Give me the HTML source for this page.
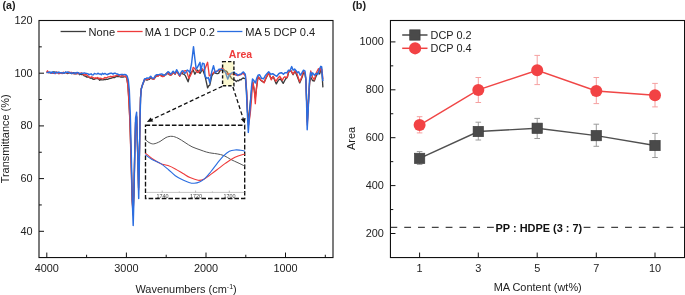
<!DOCTYPE html><html><head><meta charset="utf-8"><style>html,body{margin:0;padding:0;background:#fff;}svg{display:block;will-change:transform;}</style></head><body>
<svg width="685" height="295" viewBox="0 0 685 295" font-family="'Liberation Sans', sans-serif">
<rect width="685" height="295" fill="#fff"/>
<text x="2.4" y="8.6" font-size="10.7" font-weight="bold" fill="#222">(a)</text>
<polyline points="46.6,72.6 47.7,72.2 48.8,72.7 50,72.4 51.1,72.8 52.2,72.9 53.3,72 54.4,71.9 55.5,73.3 56.6,72.3 57.8,72.3 58.9,73.6 60,72.8 61.1,72.8 62.2,73.4 63.3,72.8 64.4,73.1 65.6,72.3 66.7,73.1 67.8,73.5 68.9,72.9 70,72.9 71.2,73.5 72.4,73.5 73.5,72.6 74.7,73.9 75.9,73.8 77.1,73.4 78.3,73.1 79.5,74.7 80.6,74.2 81.8,74.7 83,74.5 84.2,75.8 85.5,76.1 86.8,77.1 88,77 89.2,77.2 90.3,78.2 91.5,77.9 92.7,79.1 93.8,79.3 95,79 96.2,78.4 97.3,78.6 98.5,78.9 99.7,80.3 100.8,79.6 102,79.8 103.2,79.9 104.4,79.3 105.6,79.5 106.8,79.2 108,79.3 109.3,78.5 110.7,78.4 112,77.8 113.4,77.4 114.8,77.5 116.2,76.3 117.8,76.6 119.3,76.3 120.6,77 121.8,76.9 123.1,77.1 124.3,76.6 125.6,76.3 126.7,78 127.9,85 128.9,100 129.9,120 131,155 132.2,200 133.1,212 134,190 134.8,150 135.6,122 136.6,117 137.6,150 138.6,188 139.3,160 140,120 140.5,98 141.2,89 142.5,85 144.5,80 145.7,79.3 147,80.3 148.2,79.5 149.4,79.3 150.7,77.5 152.2,78.9 153.8,79 155.3,77.4 156.8,75.5 158,75.7 159.2,74.7 160.4,75 161.6,75.9 162.7,75.8 163.9,76 165.3,74.6 166.6,73.1 168,72.8 169.2,74.5 170.5,75 171.8,74.5 173.1,72.3 175.1,74.1 176.6,71 179.7,76 181.7,72.3 183,74.2 184.2,74.4 185.5,75.9 188.1,81.8 190.6,72.5 191.9,71.8 193.2,70 194.9,74.2 197.4,70 198.7,71.5 200,73.4 202.5,69.1 205,75.9 207.6,87.8 208.7,85.9 209.8,85.2 211.8,75.9 213.1,73.8 214.4,72.5 215.8,73.3 217.2,73.7 218.6,73.4 219.7,71.1 220.9,70.5 222,68.8 223.3,68.8 224.6,70.7 225.8,70.8 227.1,71.8 228.2,73.9 229.3,75.5 230.4,76.2 231.5,78.5 232.6,79.1 234,79.8 235.2,80.4 236.3,81.6 237.5,80.4 238.7,80.9 239.9,79.5 241.1,79.8 242.3,78.4 243.5,78 245.5,79 246.5,92 247.5,112 248.4,122 249.6,110 250.8,98 251.8,88 252.7,82 254.2,90 255.3,98 256.5,88 258,76.8 259.5,78.5 261,80.5 262.6,81.6 264.1,82.4 266.1,78 268.7,73.2 271.2,78.8 273.2,76.8 276.3,83.9 278.3,80.3 280.4,78.8 283.2,83.4 285.4,79.3 287.5,76.8 288.5,72.7 290.5,70.2 293.1,74.7 295.1,71.2 297.6,77.3 299.7,82.9 301.7,78.3 303.7,72.2 305,74.2 305.9,80 306.6,100 307.3,122 308.3,105 309.6,83 310.7,77 312.5,80.5 314.3,81 315.4,78 316.6,75 318.4,72 319.6,74 320.8,70 322,73 322.9,87.4" fill="none" stroke="#3c3c3c" stroke-width="1.35" stroke-linejoin="round"/>
<polyline points="46.6,72.3 47.5,70.8 48.5,72.5 49.6,72.7 50.8,73 52,73.1 53.1,73.4 54.2,73.1 55.4,73.5 56.5,72 57.7,72.8 58.9,73.6 60,72.9 61.1,73.1 62.2,73.5 63.3,72.2 64.4,72.8 65.6,72.4 66.7,72.8 67.8,72.9 68.9,71.9 70,72.7 71.2,72.3 72.4,72.6 73.5,73.8 74.7,73.6 75.9,72.7 77.1,73.9 78.3,72.9 79.5,73.8 80.6,73.1 81.8,73 83,74 84.2,75.1 85.5,74.5 86.8,75 88,76 89.2,77.2 90.5,77.4 91.8,76.8 93,77.5 94.2,78.4 95.3,77.8 96.5,78.2 97.7,77.5 98.8,78.8 100,78.2 101.2,78.4 102.4,78.8 103.6,78.6 104.8,77.5 106,77.8 107.2,77.4 108.4,76.8 109.6,76.6 110.8,76.3 112,76.8 113.4,76.1 114.8,76.2 116.2,75.6 117.8,75 119.3,76 120.6,76.3 121.8,75.7 123.1,75.7 124.3,76.5 125.6,76 126.7,78 127.8,85 128.8,100 129.8,120 130.9,155 132.1,200 133.1,215 134,190 134.8,150 135.6,122 136.6,116 137.6,150 138.6,190 139.3,160 140,120 140.5,98 141.2,89 142.5,84.8 144.5,79.6 145.7,79.5 147,79.1 148.2,79.3 149.4,78.3 150.7,77.3 152.2,78.6 153.8,79.3 155.3,76.7 156.8,75.7 158,76.4 159.2,74.7 160.4,75.4 161.6,76.2 162.7,76.7 163.9,76.4 165.3,74.4 166.6,74.6 168,73 169.2,74 170.5,75.4 171.8,74.1 173.1,72.5 175.1,74.3 176.6,71.2 179.7,76.2 181.7,72.5 183,72.5 184.1,71.1 185.3,70.6 186.4,70.8 188.9,78.4 191.5,73.4 193.2,67.4 194.4,68.2 195.7,70 197,72 198.3,72.5 199.9,69.9 201.6,68.3 202.9,70 204.2,70.8 207.6,62.3 209.3,75.9 210.6,75.4 211.8,73.4 212.9,73.6 214.1,72 215.2,71.7 216.5,71.1 217.7,70.9 219,70.5 220.5,69.8 222,68.2 223.1,68.8 224.3,71.1 225.4,72.4 226.6,73.7 227.7,74.3 229,73.5 230.2,75.1 231.5,73.6 232.7,74 234,74.3 235.2,74.6 236.4,75.3 237.6,74.4 238.8,75.5 240,74.9 241.1,74.5 242.3,73.6 243.4,73.5 245.5,76 246.6,90 247.6,112 248.6,125 250.1,115 251.3,102 252.1,90 252.9,82 254.3,90 255.3,103.7 256.5,88 258,76.8 259.5,78.2 261,80.3 262.6,81.1 264.1,82.9 266.1,77.3 268.7,72.7 271.2,79.8 273.2,76.3 275.8,81.3 277.8,78.3 279.8,76.3 282.4,80.3 283.6,77.8 284.9,76.8 287,77.8 288.5,72.2 290.5,70.2 293.1,74.2 295.1,70.7 297.1,74.2 299.7,81.8 301.7,77.3 303.2,71.2 305,73.2 305.9,80 306.6,100 307.3,125 308.3,105 309.6,82 310.7,71 312.5,77 314.3,79.9 315.4,75.8 316.6,72.2 318.4,68.7 319.6,72.2 320.8,66.9 322,69.8 322.9,79.3" fill="none" stroke="#ee3b3b" stroke-width="1.35" stroke-linejoin="round"/>
<polyline points="46.6,72.5 47.7,72.5 48.8,72.3 50,72 51.1,73.2 52.2,71.8 53.3,72.7 54.4,73.4 55.5,72 56.6,72.8 57.8,72.9 58.9,72 60,72.8 61.1,72.6 62.2,73.1 63.3,72.7 64.4,73.1 65.6,72.1 66.7,72.2 67.8,72 68.9,72.6 70,72.6 71.2,73.4 72.4,72.9 73.5,73.3 74.7,72.7 75.9,73.4 77.1,72.4 78.3,72.8 79.5,73.5 80.6,73.6 81.8,73.2 83,73.4 84.2,72.8 85.3,73.3 86.5,73.4 87.7,73.6 88.8,74.7 90,74.3 91.1,73.8 92.2,74.9 93.4,74.8 94.5,73.4 95.6,73.9 96.8,74.1 97.9,73.2 99,74 100.2,73.9 101.3,74.7 102.5,73.3 103.7,74.2 104.9,73.4 106.1,74.1 107.2,74.7 108.4,74 109.6,73.5 110.8,73.2 111.9,73.3 113.1,74.1 114.3,73.2 115.5,73.3 116.6,74 117.8,74 118.9,75 120.1,74.6 121.3,74.4 122.4,74.4 123.6,74.8 124.8,74.5 125.9,74.6 127.1,76 128.3,80 129.3,90 130.3,115 131.3,155 132.3,200 133.2,225.5 134,195 134.8,150 135.6,118 136.6,112.3 137.6,150 138.7,198.6 139.4,160 140,120 140.6,98 141.3,89 142.6,84.4 144.6,78.8 145.8,78.8 147,77.9 148.2,78.3 149.4,77.5 150.7,76.3 152.2,78.1 153.8,78.3 155.3,75.7 156.8,74.7 158,74.6 159.2,74.5 160.4,74.2 161.6,73.9 162.7,74.5 163.9,75.2 165.3,74.9 166.6,73.7 168,71.7 169.2,72.3 170.5,74.2 171.8,73 173.1,71.2 175.1,73.2 176.6,69.7 179.7,75.2 181.7,71.2 183,70.8 184.7,73.4 185.9,72.5 187.2,70 188.5,70.8 189.8,72.5 191.5,64 193.5,46.7 194.9,59 196.2,69.1 197.4,67.4 200,62.3 200.8,70.8 202.5,63.2 204.2,64 205,75.9 206.7,78.4 208.4,77.6 209.8,82.7 211.8,71.7 213.5,65.7 215.2,72.5 216.4,71.8 217.7,70.8 219,69.2 220.3,69.1 222,69.4 223.1,70 224.2,71.3 225.3,71.8 227.7,79.1 229.6,74.9 231.4,73.1 232.7,72.6 234,71.8 235.2,73.5 236.3,73.6 237.5,75.5 238.8,74.6 240,74.3 241.1,74.1 242.3,72.8 243.4,71.9 245.3,74.2 246.2,86 247.2,110 248.3,132.4 249.5,115 250.6,100 251.6,86 252.5,79 253.8,80.5 255.4,83 256.8,78 258,75.2 259.5,74.7 261.6,78.3 263.6,78.8 265.6,75.2 267.1,73.4 268.7,71.7 270.7,74.2 272.7,73.7 274.8,75.2 276.8,76.3 278.8,73.7 280.1,73 281.4,72.7 283.4,74.2 284.9,72.7 287,72.7 288.5,70.2 290,70.7 291.7,66.6 293.1,70.2 294.6,69.1 296.1,70.7 297.6,72.7 298.7,71.7 300.2,75.2 301.7,73.2 303.5,70.2 305,71.2 305.8,78 306.5,100 307.2,129.7 308.2,110 309.5,80.5 310.7,72.2 311.5,75.8 312.7,72.8 314.3,75.2 316,73.4 317.8,74.6 319.6,68.7 320.8,66.3 321.7,66.9 322.3,75.8 322.9,81.1" fill="none" stroke="#2a6de0" stroke-width="1.45" stroke-linejoin="round"/>
<rect x="222.6" y="61.6" width="11.3" height="24.2" fill="#f2ea70" fill-opacity="0.32" stroke="#111" stroke-width="1.4" stroke-dasharray="3.4,2.0"/>
<text x="228.8" y="57.6" font-size="10.5" font-weight="bold" fill="#ee3b3b">Area</text>
<line x1="222.3" y1="86.3" x2="151.8" y2="119.5" stroke="#111" stroke-width="1.3" stroke-dasharray="4.0,2.4"/>
<polygon points="146.9,121.9 153.3,121.6 150.6,117.4" fill="#111"/>
<line x1="232.9" y1="87" x2="243.2" y2="118.6" stroke="#111" stroke-width="1.3" stroke-dasharray="4.0,2.4"/>
<polygon points="244.8,123.4 240.7,119.1 245.6,118.0" fill="#111"/>
<rect x="145.5" y="125.2" width="99.2" height="73.3" fill="#fff" stroke="#111" stroke-width="1.35" stroke-dasharray="4.6,2.0"/>
<line x1="146" y1="192.4" x2="244.5" y2="192.4" stroke="#aaa" stroke-width="0.7"/>
<line x1="162.2" y1="192.4" x2="162.2" y2="190.6" stroke="#888" stroke-width="0.6"/>
<line x1="195.6" y1="192.4" x2="195.6" y2="190.6" stroke="#888" stroke-width="0.6"/>
<line x1="229.3" y1="192.4" x2="229.3" y2="190.6" stroke="#888" stroke-width="0.6"/>
<line x1="179.3" y1="192.4" x2="179.3" y2="191.4" stroke="#999" stroke-width="0.6"/>
<line x1="212.4" y1="192.4" x2="212.4" y2="191.4" stroke="#999" stroke-width="0.6"/>
<text x="162.6" y="197.9" font-size="5.4" text-anchor="middle" fill="#444">1740</text>
<text x="195.9" y="197.9" font-size="5.4" text-anchor="middle" fill="#444">1720</text>
<text x="229.4" y="197.9" font-size="5.4" text-anchor="middle" fill="#444">1700</text>
<path d="M145.4,139.5 C146,140 147.6,141.8 149,142.5 C150.4,143.2 151.8,144.1 153.6,143.9 C155.4,143.7 157.9,142.6 160,141.5 C162.1,140.4 164,138.4 166,137.5 C168,136.6 170,136.2 172,136.3 C174,136.4 175.8,137.2 178,138.2 C180.2,139.2 182.7,141.1 185,142.5 C187.3,143.9 189.5,145.6 192,146.8 C194.5,148 197.6,148.9 200,149.8 C202.4,150.7 204.3,151.4 206.3,152 C208.3,152.6 210.2,152.9 212,153.2 C213.8,153.5 215.2,153.5 217.2,153.9 C219.2,154.3 221.8,154.7 224,155.6 C226.2,156.5 228.4,158.2 230.7,159.4 C233,160.6 235.6,161.7 238,162.8 C240.4,163.9 243.8,165.6 245,166.2" fill="none" stroke="#555" stroke-width="1"/>
<path d="M145.4,153.1 C146.5,154 149.5,156.8 152,158.5 C154.5,160.2 157.7,162.2 160.4,163.4 C163.1,164.6 165.5,164.7 168,165.6 C170.5,166.5 172.8,167.6 175.3,168.9 C177.8,170.2 180.6,172.1 183,173.5 C185.4,174.9 187.5,176.5 190,177.6 C192.5,178.7 195.8,180 198.1,180.3 C200.4,180.6 202.2,180 204,179.2 C205.8,178.4 206.8,177.3 209,175.7 C211.2,174.1 214.3,171.9 217,169.8 C219.7,167.8 222.3,165.5 225.3,163.4 C228.3,161.3 231.7,158.9 235,157.3 C238.3,155.7 243.3,154.5 245,153.9" fill="none" stroke="#ee3b3b" stroke-width="1.1"/>
<path d="M145.4,154.8 C146.5,155.6 149.5,158.1 152,159.5 C154.5,160.9 157.7,161.8 160.4,163.4 C163.1,165 165.5,167.1 168,169.2 C170.5,171.2 172.8,173.9 175.3,175.7 C177.8,177.5 180.7,178.9 183,180 C185.3,181.1 187.2,181.8 189,182.4 C190.8,183 192.3,183.4 194.1,183.3 C195.8,183.2 197.7,182.8 199.5,182 C201.3,181.2 203,180.2 204.9,178.4 C206.8,176.7 208.9,174 211,171.5 C213.1,169 215.2,165.9 217.2,163.4 C219.2,160.9 221,158.3 223,156.3 C225,154.3 227.2,152.3 229.4,151.2 C231.6,150.1 234.3,150.1 236.2,149.9 C238,149.8 239,150.1 240.5,150.3 C242,150.5 244.2,151 245,151.2" fill="none" stroke="#2a6de0" stroke-width="1.1"/>
<line x1="60.6" y1="31.5" x2="86" y2="31.5" stroke="#3c3c3c" stroke-width="1.3"/>
<text x="88.6" y="35.9" font-size="11.1" fill="#222">None</text>
<line x1="117.2" y1="31.5" x2="142.6" y2="31.5" stroke="#ee3b3b" stroke-width="1.3"/>
<text x="144.8" y="35.9" font-size="11.1" fill="#222">MA 1 DCP 0.2</text>
<line x1="217.2" y1="31.5" x2="242.4" y2="31.5" stroke="#2a6de0" stroke-width="1.3"/>
<text x="245.2" y="35.9" font-size="11.1" fill="#222">MA 5 DCP 0.4</text>
<rect x="39.0" y="20.5" width="294.0" height="237.05" fill="none" stroke="#111" stroke-width="1.1"/>
<line x1="39.0" y1="20.5" x2="44.0" y2="20.5" stroke="#111" stroke-width="1"/>
<text x="32.6" y="23.8" font-size="10.9" text-anchor="end" fill="#222">120</text>
<line x1="39.0" y1="73.2" x2="44.0" y2="73.2" stroke="#111" stroke-width="1"/>
<text x="32.6" y="76.5" font-size="10.9" text-anchor="end" fill="#222">100</text>
<line x1="39.0" y1="125.9" x2="44.0" y2="125.9" stroke="#111" stroke-width="1"/>
<text x="32.6" y="129.2" font-size="10.9" text-anchor="end" fill="#222">80</text>
<line x1="39.0" y1="178.6" x2="44.0" y2="178.6" stroke="#111" stroke-width="1"/>
<text x="32.6" y="181.9" font-size="10.9" text-anchor="end" fill="#222">60</text>
<line x1="39.0" y1="231.3" x2="44.0" y2="231.3" stroke="#111" stroke-width="1"/>
<text x="32.6" y="234.6" font-size="10.9" text-anchor="end" fill="#222">40</text>
<line x1="39.0" y1="46.85" x2="41.8" y2="46.85" stroke="#111" stroke-width="1"/>
<line x1="39.0" y1="99.55" x2="41.8" y2="99.55" stroke="#111" stroke-width="1"/>
<line x1="39.0" y1="152.25" x2="41.8" y2="152.25" stroke="#111" stroke-width="1"/>
<line x1="39.0" y1="204.95" x2="41.8" y2="204.95" stroke="#111" stroke-width="1"/>
<line x1="46.8" y1="257.55" x2="46.8" y2="252.55" stroke="#111" stroke-width="1"/>
<text x="46.8" y="272.4" font-size="10.9" text-anchor="middle" fill="#222">4000</text>
<line x1="126.4" y1="257.55" x2="126.4" y2="252.55" stroke="#111" stroke-width="1"/>
<text x="126.4" y="272.4" font-size="10.9" text-anchor="middle" fill="#222">3000</text>
<line x1="206.0" y1="257.55" x2="206.0" y2="252.55" stroke="#111" stroke-width="1"/>
<text x="206.0" y="272.4" font-size="10.9" text-anchor="middle" fill="#222">2000</text>
<line x1="285.5" y1="257.55" x2="285.5" y2="252.55" stroke="#111" stroke-width="1"/>
<text x="285.5" y="272.4" font-size="10.9" text-anchor="middle" fill="#222">1000</text>
<line x1="86.6" y1="257.55" x2="86.6" y2="254.75" stroke="#111" stroke-width="1"/>
<line x1="166.2" y1="257.55" x2="166.2" y2="254.75" stroke="#111" stroke-width="1"/>
<line x1="245.8" y1="257.55" x2="245.8" y2="254.75" stroke="#111" stroke-width="1"/>
<line x1="325.3" y1="257.55" x2="325.3" y2="254.75" stroke="#111" stroke-width="1"/>
<text x="186.1" y="292.6" font-size="10.95" text-anchor="middle" fill="#222">Wavenumbers (cm<tspan font-size="7" dy="-4">-1</tspan><tspan dy="4">)</tspan></text>
<text transform="translate(8.9,138.9) rotate(-90)" font-size="10.95" text-anchor="middle" fill="#222">Transmittance (%)</text>
<text x="352.2" y="8.6" font-size="10.9" font-weight="bold" fill="#222">(b)</text>
<line x1="390.45" y1="227.3" x2="684.55" y2="227.3" stroke="#444" stroke-width="1.2" stroke-dasharray="6.8,7"/>
<rect x="495" y="221" width="88" height="12" fill="#fff"/>
<text x="538.9" y="231.6" font-size="10.95" font-weight="bold" text-anchor="middle" fill="#111">PP : HDPE (3 : 7)</text>
<path d="M419.6,151.6V164.4M416.8,151.6H422.40000000000003M416.8,164.4H422.40000000000003" stroke="#9a9a9a" stroke-width="1" fill="none"/>
<path d="M478.3,122.2V140.0M475.5,122.2H481.1M475.5,140.0H481.1" stroke="#9a9a9a" stroke-width="1" fill="none"/>
<path d="M537.2,118.4V138.5M534.4000000000001,118.4H540.0M534.4000000000001,138.5H540.0" stroke="#9a9a9a" stroke-width="1" fill="none"/>
<path d="M596.3,124.2V146.3M593.5,124.2H599.0999999999999M593.5,146.3H599.0999999999999" stroke="#9a9a9a" stroke-width="1" fill="none"/>
<path d="M655.0,133.4V157.5M652.2,133.4H657.8M652.2,157.5H657.8" stroke="#9a9a9a" stroke-width="1" fill="none"/>
<path d="M419.6,116.7V132.9M416.8,116.7H422.40000000000003M416.8,132.9H422.40000000000003" stroke="#f5a0a0" stroke-width="1" fill="none"/>
<path d="M478.3,77.5V102.5M475.5,77.5H481.1M475.5,102.5H481.1" stroke="#f5a0a0" stroke-width="1" fill="none"/>
<path d="M537.2,55.4V84.6M534.4000000000001,55.4H540.0M534.4000000000001,84.6H540.0" stroke="#f5a0a0" stroke-width="1" fill="none"/>
<path d="M596.3,77.5V103.6M593.5,77.5H599.0999999999999M593.5,103.6H599.0999999999999" stroke="#f5a0a0" stroke-width="1" fill="none"/>
<path d="M655.0,83.4V106.9M652.2,83.4H657.8M652.2,106.9H657.8" stroke="#f5a0a0" stroke-width="1" fill="none"/>
<polyline points="419.6,158.4 478.3,131.5 537.2,128.3 596.3,135.6 655,145.5" fill="none" stroke="#505050" stroke-width="1.45"/>
<polyline points="419.6,125.1 478.3,89.9 537.2,70.3 596.3,91 655,95.3" fill="none" stroke="#f04646" stroke-width="1.45"/>
<rect x="414.4" y="153.2" width="10.4" height="10.4" fill="#4a4a4a" stroke="#3a3a3a" stroke-width="0.6"/>
<rect x="473.1" y="126.3" width="10.4" height="10.4" fill="#4a4a4a" stroke="#3a3a3a" stroke-width="0.6"/>
<rect x="532" y="123.1" width="10.4" height="10.4" fill="#4a4a4a" stroke="#3a3a3a" stroke-width="0.6"/>
<rect x="591.1" y="130.4" width="10.4" height="10.4" fill="#4a4a4a" stroke="#3a3a3a" stroke-width="0.6"/>
<rect x="649.8" y="140.3" width="10.4" height="10.4" fill="#4a4a4a" stroke="#3a3a3a" stroke-width="0.6"/>
<circle cx="419.6" cy="125.1" r="6" fill="#f24244"/>
<circle cx="478.3" cy="89.9" r="6" fill="#f24244"/>
<circle cx="537.2" cy="70.3" r="6" fill="#f24244"/>
<circle cx="596.3" cy="91.0" r="6" fill="#f24244"/>
<circle cx="655.0" cy="95.3" r="6" fill="#f24244"/>
<line x1="402.2" y1="35" x2="427.5" y2="35" stroke="#4a4a4a" stroke-width="1.5"/>
<rect x="409.7" y="29.8" width="10.4" height="10.4" fill="#4a4a4a" stroke="#3a3a3a" stroke-width="0.6"/>
<line x1="402.2" y1="48.3" x2="427.5" y2="48.3" stroke="#f04040" stroke-width="1.5"/>
<circle cx="415.1" cy="48.3" r="6.1" fill="#f24244"/>
<text x="430.6" y="38.6" font-size="10.9" fill="#222">DCP 0.2</text>
<text x="430.6" y="51.9" font-size="10.9" fill="#222">DCP 0.4</text>
<rect x="390.45" y="20.5" width="294.09999999999997" height="237.05" fill="none" stroke="#111" stroke-width="1.1"/>
<line x1="390.45" y1="41.9" x2="395.45" y2="41.9" stroke="#111" stroke-width="1"/>
<text x="383.8" y="45.1" font-size="10.9" text-anchor="end" fill="#222">1000</text>
<line x1="390.45" y1="89.8" x2="395.45" y2="89.8" stroke="#111" stroke-width="1"/>
<text x="383.8" y="93" font-size="10.9" text-anchor="end" fill="#222">800</text>
<line x1="390.45" y1="137.7" x2="395.45" y2="137.7" stroke="#111" stroke-width="1"/>
<text x="383.8" y="140.9" font-size="10.9" text-anchor="end" fill="#222">600</text>
<line x1="390.45" y1="185.6" x2="395.45" y2="185.6" stroke="#111" stroke-width="1"/>
<text x="383.8" y="188.8" font-size="10.9" text-anchor="end" fill="#222">400</text>
<line x1="390.45" y1="233.5" x2="395.45" y2="233.5" stroke="#111" stroke-width="1"/>
<text x="383.8" y="236.7" font-size="10.9" text-anchor="end" fill="#222">200</text>
<line x1="390.45" y1="65.85" x2="393.25" y2="65.85" stroke="#111" stroke-width="1"/>
<line x1="390.45" y1="113.75" x2="393.25" y2="113.75" stroke="#111" stroke-width="1"/>
<line x1="390.45" y1="161.65" x2="393.25" y2="161.65" stroke="#111" stroke-width="1"/>
<line x1="390.45" y1="209.55" x2="393.25" y2="209.55" stroke="#111" stroke-width="1"/>
<line x1="419.6" y1="257.55" x2="419.6" y2="252.55" stroke="#111" stroke-width="1"/>
<text x="419.6" y="272.4" font-size="10.9" text-anchor="middle" fill="#222">1</text>
<line x1="478.3" y1="257.55" x2="478.3" y2="252.55" stroke="#111" stroke-width="1"/>
<text x="478.3" y="272.4" font-size="10.9" text-anchor="middle" fill="#222">3</text>
<line x1="537.2" y1="257.55" x2="537.2" y2="252.55" stroke="#111" stroke-width="1"/>
<text x="537.2" y="272.4" font-size="10.9" text-anchor="middle" fill="#222">5</text>
<line x1="596.3" y1="257.55" x2="596.3" y2="252.55" stroke="#111" stroke-width="1"/>
<text x="596.3" y="272.4" font-size="10.9" text-anchor="middle" fill="#222">7</text>
<line x1="655.0" y1="257.55" x2="655.0" y2="252.55" stroke="#111" stroke-width="1"/>
<text x="655.0" y="272.4" font-size="10.9" text-anchor="middle" fill="#222">10</text>
<text x="537.7" y="291.2" font-size="10.95" text-anchor="middle" fill="#222">MA Content (wt%)</text>
<text transform="translate(354.9,138.4) rotate(-90)" font-size="10.95" text-anchor="middle" fill="#222">Area</text>
</svg></body></html>
